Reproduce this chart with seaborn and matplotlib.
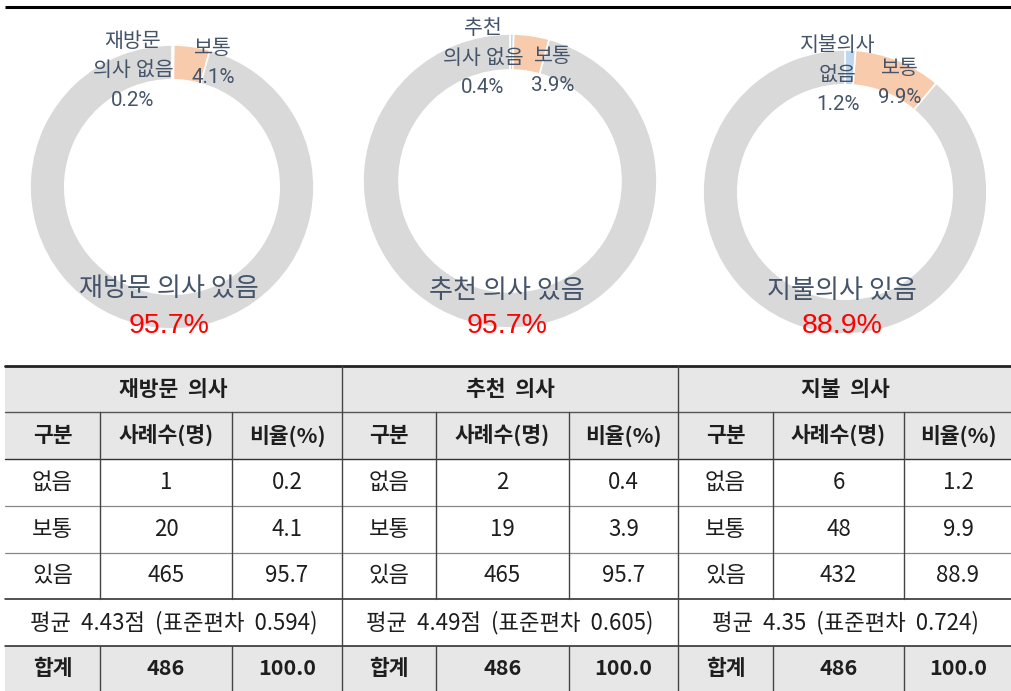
import matplotlib
matplotlib.use("Agg")
import matplotlib.pyplot as plt
import seaborn as sns
from matplotlib.patches import Rectangle

# ---------------- data ----------------
categories = ["없음", "보통", "있음"]
group_titles = ["재방문  의사", "추천  의사", "지불  의사"]
sub_headers = ["구분", "사례수(명)", "비율(%)"]

counts_revisit = [1, 20, 465]
pct_revisit = [0.2, 4.1, 95.7]
counts_recommend = [2, 19, 465]
pct_recommend = [0.4, 3.9, 95.7]
counts_pay = [6, 48, 432]
pct_pay = [1.2, 9.9, 88.9]

mean_labels = ["평균  4.43점  (표준편차  0.594)",
               "평균  4.49점  (표준편차  0.605)",
               "평균  4.35  (표준편차  0.724)"]
total_label = "합계"
totals = [486, 486, 486]
total_pct = ["100.0", "100.0", "100.0"]

donut_none_labels = ["재방문\n의사 없음", "추천\n의사 없음", "지불의사\n없음"]
donut_mid_label = "보통"
donut_yes_labels = ["재방문 의사 있음", "추천 의사 있음", "지불의사 있음"]

all_counts = [counts_revisit, counts_recommend, counts_pay]
all_pcts = [pct_revisit, pct_recommend, pct_pay]

# ---------------- style ----------------
sns.set_theme(style="white")
plt.rcParams['font.family'] = ['Noto Sans CJK KR', 'DejaVu Sans']
label_family = ['Roboto', 'Noto Sans CJK KR', 'DejaVu Sans']

palette = sns.color_palette(["#BDD7EE", "#F8CBAD", "#D9D9D9"])
label_color = "#44546A"
table_bg = "#E7E7E7"
text_color = "#1E1E1E"

W, H = 1012, 691
fig = plt.figure(figsize=(W / 100, H / 100), dpi=100)
fig.patch.set_facecolor("white")

base = fig.add_axes([0, 0, 1, 1])
base.set_xlim(0, W)
base.set_ylim(H, 0)
base.axis("off")


def ftext(x, y, s, **kw):
    fig.text(x / W, 1 - y / H, s, **kw)


# top rule
base.plot([5, W], [7, 7], color="black", lw=2.2, solid_capstyle="butt")

# ---------------- donuts ----------------
donut_layout = [
    dict(cx=172, cy=187, r=142, none_xy=(133, 71), mid_xy=(213, 63), yes_y=288, pct_y=326),
    dict(cx=510, cy=181, r=147, none_xy=(483, 58), mid_xy=(553, 71), yes_y=290, pct_y=326),
    dict(cx=845, cy=192, r=142, none_xy=(838, 75), mid_xy=(900, 83), yes_y=290, pct_y=326),
]

for i, lay in enumerate(donut_layout):
    cx, cy, r = lay["cx"], lay["cy"], lay["r"]
    h = 1.25 * r
    ax = fig.add_axes([(cx - h) / W, 1 - (cy + h) / H, 2 * h / W, 2 * h / H])
    ax.pie(all_pcts[i], colors=palette, startangle=90, counterclock=False,
           radius=1.0, wedgeprops=dict(width=0.245, edgecolor="white", linewidth=1.2))
    ax.set_xlim(-1.25, 1.25)
    ax.set_ylim(-1.25, 1.25)
    ax.axis("off")

    p = all_pcts[i]
    nx, ny = lay["none_xy"]
    ftext(nx, ny, f"{donut_none_labels[i]}\n{p[0]:.1f}%", ha="center", va="center",
          fontsize=14.8, color=label_color, linespacing=1.72, multialignment="center",
          family=label_family)
    mx, my = lay["mid_xy"]
    ftext(mx, my, f"{donut_mid_label}\n{p[1]:.1f}%", ha="center", va="center",
          fontsize=14.8, color=label_color, linespacing=1.72, multialignment="center",
          family=label_family)
    ftext(cx - 3, lay["yes_y"], donut_yes_labels[i], ha="center", va="center",
          fontsize=18.8, color=label_color)
    ftext(cx - 3, lay["pct_y"], f"{p[2]:.1f}%", ha="center", va="center",
          fontsize=20.5, color="#FF0000", family=["Liberation Sans", "DejaVu Sans"])

# ---------------- table ----------------
col_x = [5, 100, 232, 342, 436, 569, 678, 773, 904, 1012]
row_y = [366, 412, 459, 506, 553, 599, 646, 691]
group_edges = [(5, 342), (342, 678), (678, 1012)]

# backgrounds
for (y0, y1) in [(row_y[0], row_y[2]), (row_y[6], row_y[7])]:
    base.add_patch(Rectangle((5, y0), W - 5, y1 - y0, facecolor=table_bg, edgecolor="none"))

# horizontal lines
base.plot([5, W], [row_y[0], row_y[0]], color="#222222", lw=2.0)
for yi, c, lw in [(1, "#555555", 1.0), (2, "#333333", 1.0), (3, "#888888", 0.9),
                  (4, "#888888", 0.9), (5, "#222222", 1.1), (6, "#222222", 1.1)]:
    base.plot([5, W], [row_y[yi], row_y[yi]], color=c, lw=lw)

# vertical lines
for gx in [342, 678]:
    base.plot([gx, gx], [row_y[0], H], color="#444444", lw=1.0)
for k in [1, 2, 4, 5, 7, 8]:
    x = col_x[k]
    base.plot([x, x], [row_y[1], row_y[5]], color="#444444", lw=1.0)
    base.plot([x, x], [row_y[6], H], color="#444444", lw=1.0)


def cell_text(x0, x1, y0, y1, s, bold=False):
    base.text((x0 + x1) / 2, (y0 + y1) / 2, s, ha="center", va="center",
              fontsize=15.5 if bold else 16, color=text_color,
              fontweight="bold" if bold else "normal")


for g, (gx0, gx1) in enumerate(group_edges):
    cell_text(gx0, gx1, row_y[0], row_y[1], group_titles[g], bold=True)
    cols = col_x[3 * g: 3 * g + 4]
    for j in range(3):
        cell_text(cols[j], cols[j + 1], row_y[1], row_y[2], sub_headers[j], bold=True)
    for r_i, cat in enumerate(categories):
        y0, y1 = row_y[2 + r_i], row_y[3 + r_i]
        cell_text(cols[0], cols[1], y0, y1, cat)
        cell_text(cols[1], cols[2], y0, y1, f"{all_counts[g][r_i]}")
        cell_text(cols[2], cols[3], y0, y1, f"{all_pcts[g][r_i]:.1f}")
    cell_text(gx0, gx1, row_y[5], row_y[6], mean_labels[g])
    cell_text(cols[0], cols[1], row_y[6], row_y[7], total_label, bold=True)
    cell_text(cols[1], cols[2], row_y[6], row_y[7], f"{totals[g]}", bold=True)
    cell_text(cols[2], cols[3], row_y[6], row_y[7], total_pct[g], bold=True)

fig.savefig("out.png", dpi=100, facecolor="white")
